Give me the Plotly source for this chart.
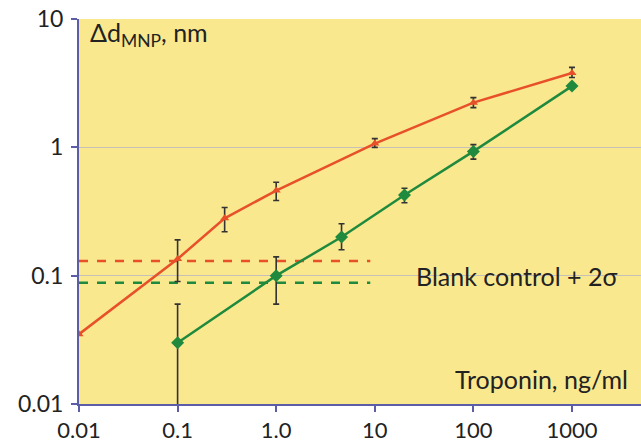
import math
import plotly.graph_objects as go

# Data
red_x = [0.01, 0.1, 0.3, 1.0, 10, 100, 1000]
red_y = [0.035, 0.135, 0.28, 0.46, 1.07, 2.23, 3.8]
red_err_plus = [0.0, 0.055, 0.06, 0.075, 0.10, 0.21, 0.4]
red_err_minus = [0.0, 0.045, 0.06, 0.075, 0.07, 0.19, 0.3]

green_x = [0.1, 1.0, 4.6, 20, 100, 1000]
green_y = [0.03, 0.10, 0.20, 0.425, 0.93, 3.0]
green_err_plus = [0.03, 0.04, 0.054, 0.055, 0.12, 0.0]
green_err_minus = [0.0299, 0.04, 0.041, 0.055, 0.12, 0.0]

red_blank = 0.13
green_blank = 0.088
blank_x = [0.01, 9]

x_tickvals = [0.01, 0.1, 1, 10, 100, 1000]
x_ticktext = ["0.01", "0.1", "1.0", "10", "100", "1000"]
y_tickvals = [0.01, 0.1, 1, 10]
y_ticktext = ["0.01", "0.1", "1", "10"]

RED = "#E8502A"
GREEN = "#1F8A3E"
AXIS = "#5B5EA6"
BG = "#FAE88E"
FONT = "Lato, DejaVu Sans, sans-serif"
TXT = "#222222"

fig = go.Figure()

fig.add_trace(go.Scatter(
    x=blank_x, y=[red_blank] * 2, mode="lines",
    line=dict(color=RED, width=2.5, dash="dash"), showlegend=False))
fig.add_trace(go.Scatter(
    x=blank_x, y=[green_blank] * 2, mode="lines",
    line=dict(color=GREEN, width=2.5, dash="dash"), showlegend=False))

fig.add_trace(go.Scatter(
    x=red_x, y=red_y, mode="lines+markers",
    line=dict(color=RED, width=2.5),
    marker=dict(symbol="triangle-up", size=8, color=RED),
    error_y=dict(type="data", array=red_err_plus, arrayminus=red_err_minus,
                 color="#333333", thickness=1.6, width=3),
    showlegend=False))
fig.add_trace(go.Scatter(
    x=green_x, y=green_y, mode="lines+markers",
    line=dict(color=GREEN, width=2.5),
    marker=dict(symbol="diamond", size=10, color=GREEN),
    error_y=dict(type="data", array=green_err_plus, arrayminus=green_err_minus,
                 color="#333333", thickness=1.6, width=3),
    showlegend=False))

fig.add_annotation(x=math.log10(0.0122), y=math.log10(7.6), xref="x", yref="y",
                   xanchor="left", yanchor="middle",
                   text="Δd<sub>MNP</sub>, nm", showarrow=False,
                   font=dict(family=FONT, size=25, color=TXT))
fig.add_annotation(x=math.log10(25), y=math.log10(0.1), xref="x", yref="y",
                   xanchor="left", yanchor="middle",
                   text="Blank control + 2σ", showarrow=False,
                   font=dict(family=FONT, size=25, color=TXT))
fig.add_annotation(x=math.log10(62), y=math.log10(0.0158), xref="x", yref="y",
                   xanchor="left", yanchor="middle",
                   text="Troponin, ng/ml", showarrow=False,
                   font=dict(family=FONT, size=25, color=TXT))

fig.update_xaxes(type="log", range=[-2, 3.70], tickvals=x_tickvals, ticktext=x_ticktext,
                 showgrid=False, zeroline=False, showline=True, linecolor=AXIS, linewidth=2,
                 ticks="outside", ticklen=6, tickcolor=AXIS, tickwidth=2,
                 tickfont=dict(family=FONT, size=22, color=TXT))
fig.update_yaxes(type="log", range=[-2, 1], tickvals=y_tickvals, ticktext=y_ticktext,
                 showgrid=True, gridcolor="#C8C0B8", gridwidth=1,
                 zeroline=False, showline=True, linecolor=AXIS, linewidth=2,
                 ticks="outside", ticklen=6, tickcolor=AXIS, tickwidth=2,
                 ticklabelstandoff=3,
                 tickfont=dict(family=FONT, size=23, color=TXT))

fig.update_layout(
    width=641, height=443,
    margin=dict(l=79, r=0, t=19, b=37),
    plot_bgcolor=BG, paper_bgcolor="white",
    showlegend=False,
)

fig.write_html("out.html")
